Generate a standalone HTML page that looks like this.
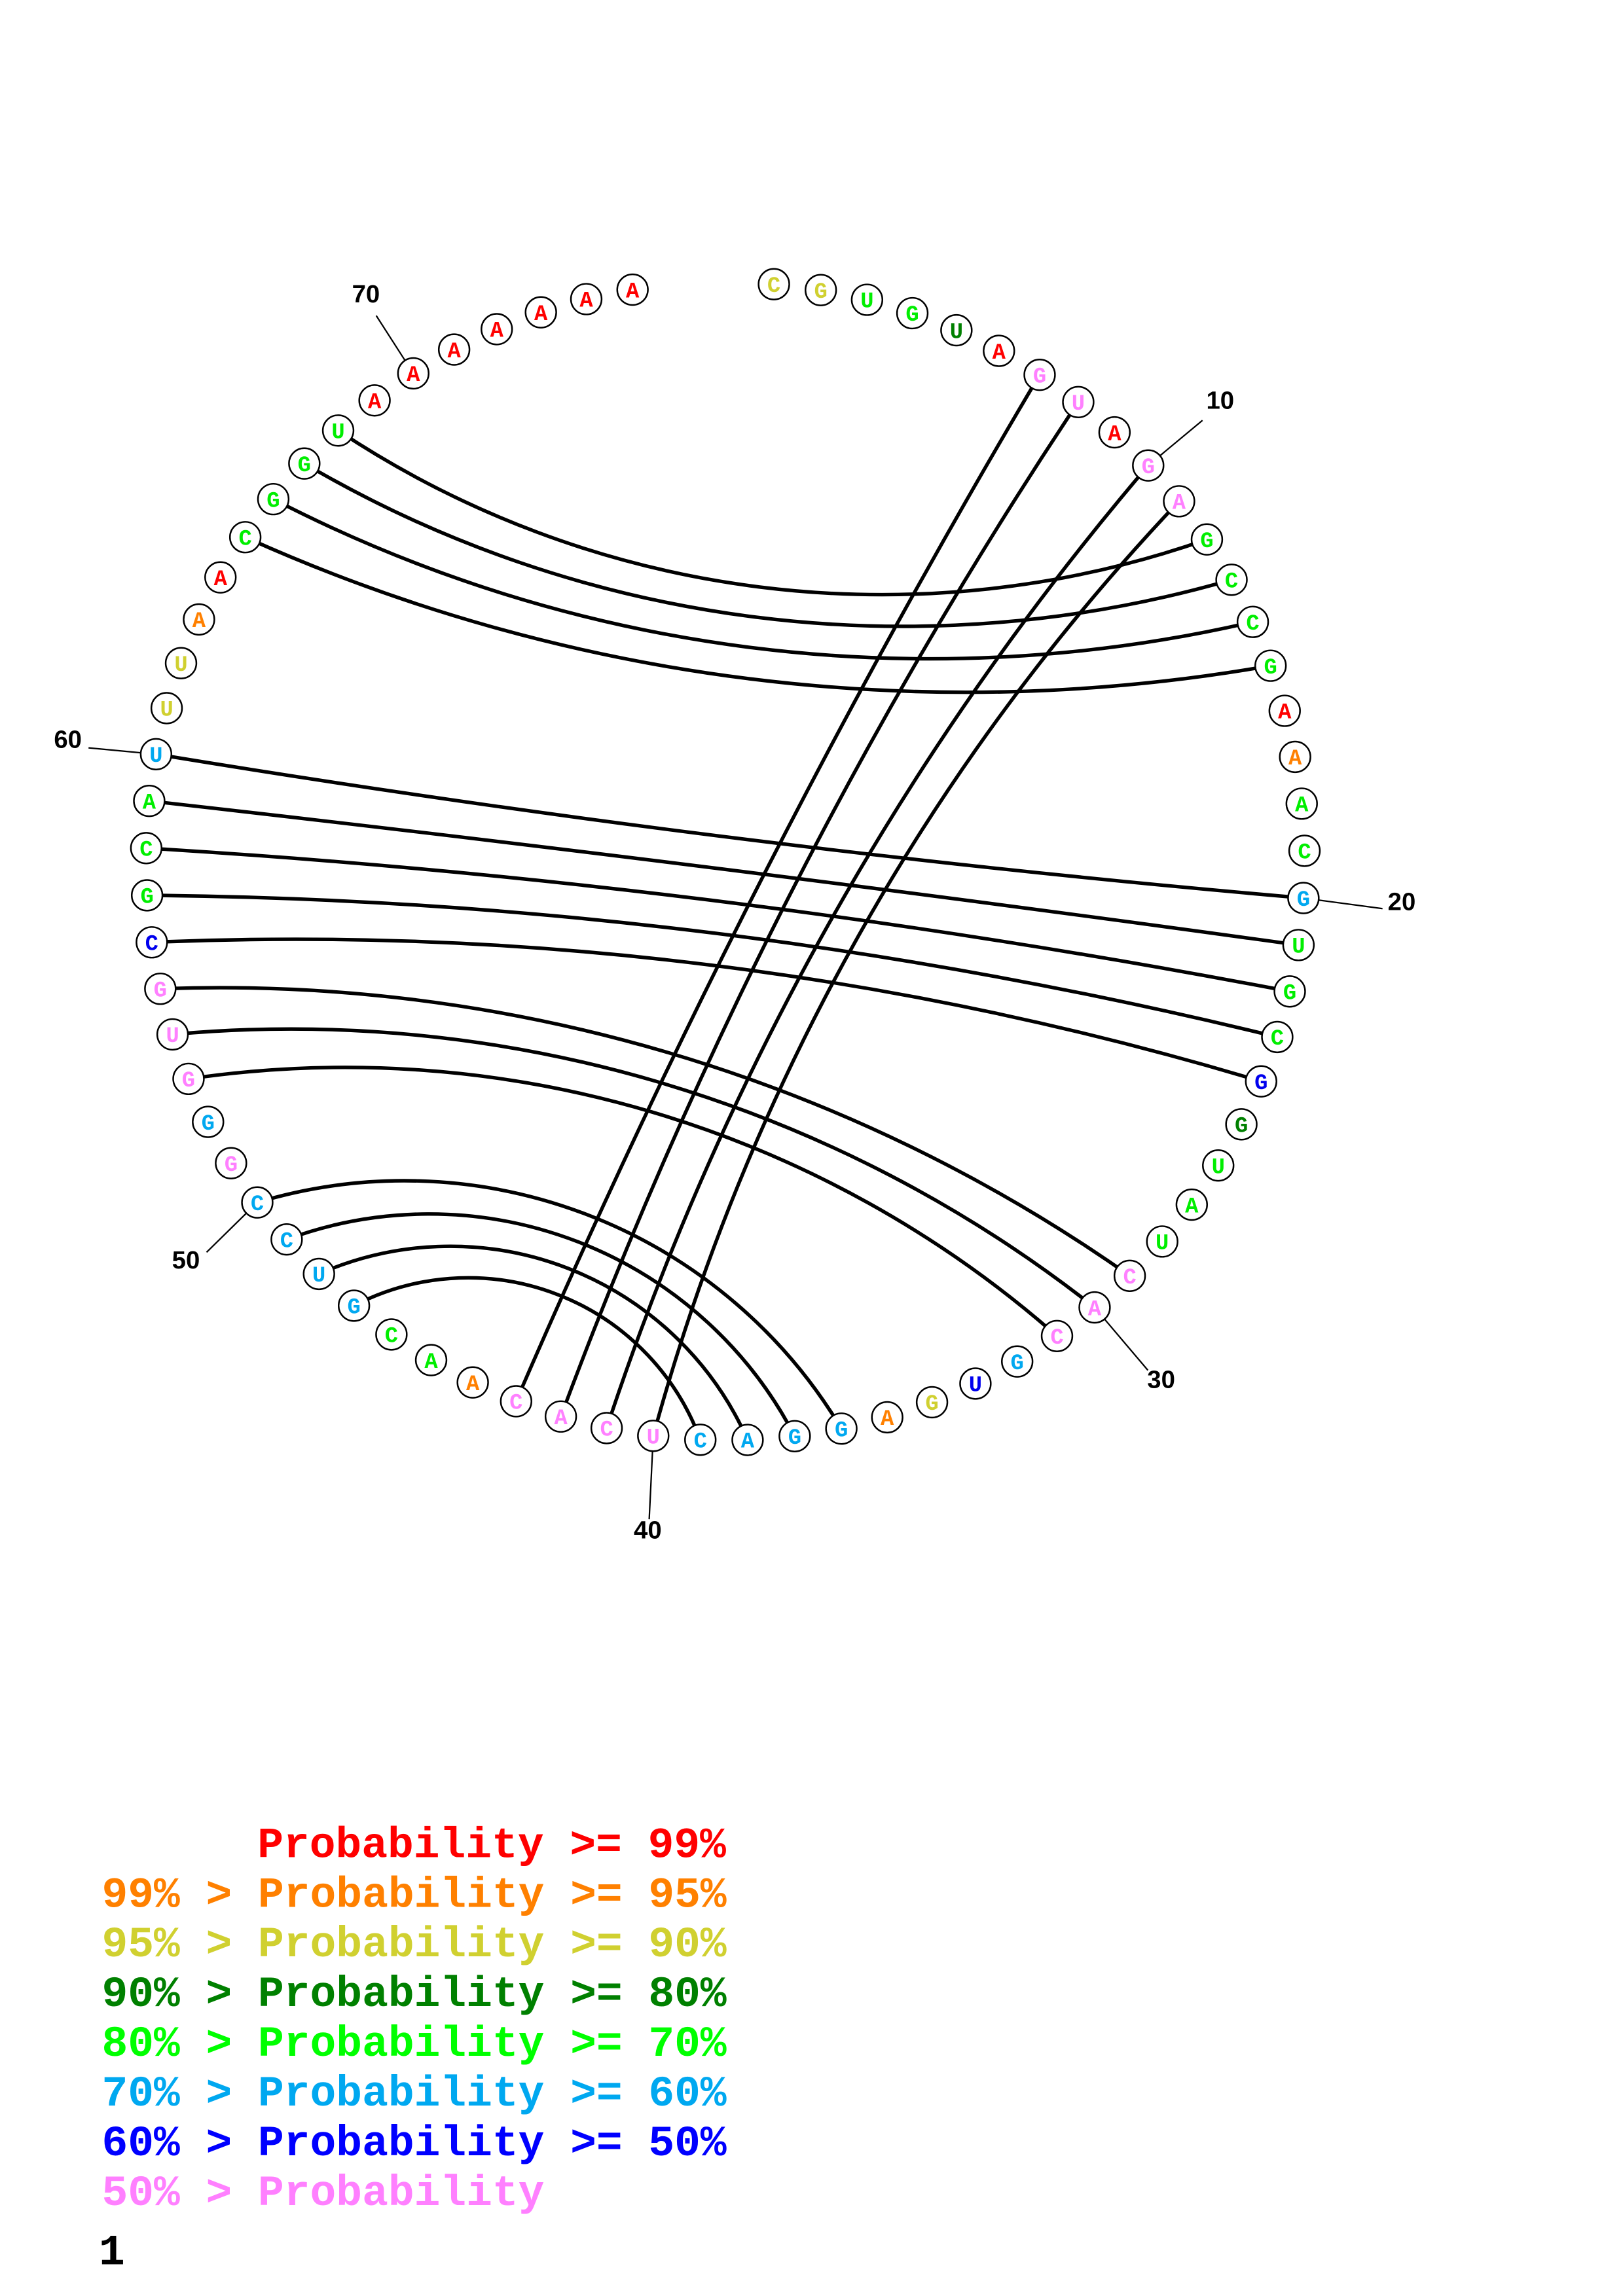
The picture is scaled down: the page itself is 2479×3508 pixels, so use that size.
<!DOCTYPE html>
<html><head><meta charset="utf-8"><style>
html,body{margin:0;padding:0;background:#fff;}
svg{display:block;}
</style></head><body>
<svg id="s" xmlns="http://www.w3.org/2000/svg" width="2479" height="3508" viewBox="0 0 1100 1556.6">
<rect width="1100" height="1556.6" fill="#fff"/>
<g id="arcs" fill="none" stroke="#000" stroke-width="2.4"></g>
<g id="ticks" stroke="#000" stroke-width="1"></g>
<g id="nts"></g>
<g font-family="'Liberation Sans', sans-serif" font-weight="bold" font-size="17" fill="#000" text-anchor="middle">
<text x="827" y="277">10</text>
<text x="950" y="617">20</text>
<text x="787" y="941">30</text>
<text x="439" y="1043">40</text>
<text x="126" y="860">50</text>
<text x="46" y="507">60</text>
<text x="248" y="205">70</text>
</g>
<g font-family="'Liberation Mono', monospace" font-weight="bold" font-size="29.4">
<text x="174.5" y="1259" fill="#ff0000">Probability &gt;= 99%</text>
<text x="69" y="1292.7" fill="#ff8000">99% &gt; Probability &gt;= 95%</text>
<text x="69" y="1326.4" fill="#d0d030">95% &gt; Probability &gt;= 90%</text>
<text x="69" y="1360.1" fill="#008000">90% &gt; Probability &gt;= 80%</text>
<text x="69" y="1393.8" fill="#00ff00">80% &gt; Probability &gt;= 70%</text>
<text x="69" y="1427.5" fill="#00a8f0">70% &gt; Probability &gt;= 60%</text>
<text x="69" y="1461.2" fill="#0000ff">60% &gt; Probability &gt;= 50%</text>
<text x="69" y="1494.9" fill="#ff80ff">50% &gt; Probability</text>
<text x="67" y="1535" fill="#000">1</text>
</g>
</svg>
<script>
(function(){
var NS="http://www.w3.org/2000/svg";
var cx=491.6, cy=583.9, R=392.6, a0=4.81, da=360/77;
var seq="CGUGUAGUAGAGCCGAAACGUGCGGUAUCACGUGAGGACUCACAACGUCCGGGUGCGCAUUUAACGGUAAAAAAA";
var Y="#d0d030",L="#00ee00",D="#008000",Rr="#ff0000",P="#ff80ff",O="#ff8000",S="#00a8f0",B="#0000ee";
var col=[Y,Y,L,L,D,Rr,P,P,Rr,P, P,L,L,L,L,Rr,O,L,L,S, L,L,L,B,D,L,L,L,P,P, P,S,B,Y,O,S,S,S,S,P,
 P,P,P,O,L,L,S,S,S,S, P,S,P,P,P,B,L,L,L,S, Y,Y,O,Rr,L,L,L,L,Rr,Rr, Rr,Rr,Rr,Rr,Rr];
function pos(i){var t=(a0+(i-1)*da)*Math.PI/180;return [cx+R*Math.sin(t),cy-R*Math.cos(t),Math.sin(t),-Math.cos(t)];}
var pairs=[[7,43],[8,42],[10,41],[11,40],[12,68],[13,67],[14,66],[15,65],[20,60],[21,59],[22,58],[23,57],[24,56],[29,55],[30,54],[31,53],[36,50],[37,49],[38,48],[39,47]];
var arcs=document.getElementById("arcs");
var F=0.63;
pairs.forEach(function(p){
 var A=pos(p[0]),Bp=pos(p[1]);
 var dot=A[2]*Bp[2]+A[3]*Bp[3];
 var phi=Math.acos(Math.max(-1,Math.min(1,dot)));
 var c2=Math.cos(phi/2);
 var d;
 if(c2<0.01){d="M"+A[0]+" "+A[1]+"L"+Bp[0]+" "+Bp[1];}
 else{
  var k=R/(2*c2*c2);
  var Cx=cx+(A[2]+Bp[2])*k, Cy=cy+(A[3]+Bp[3])*k;
  var r0=R*Math.tan(phi/2);
  var hc=R*Math.sin(phi/2);
  var s0=r0-Math.sqrt(Math.max(0,r0*r0-hc*hc));
  var s=s0*F;
  var r=(hc*hc+s*s)/(2*s);
  var dx=Bp[0]-A[0],dy=Bp[1]-A[1];
  var cr=dx*(Cy-A[1])-dy*(Cx-A[0]);
  var sw=cr>0?1:0;
  d="M"+A[0].toFixed(2)+" "+A[1].toFixed(2)+" A"+r.toFixed(2)+" "+r.toFixed(2)+" 0 0 "+sw+" "+Bp[0].toFixed(2)+" "+Bp[1].toFixed(2);
 }
 var e=document.createElementNS(NS,"path");e.setAttribute("d",d);arcs.appendChild(e);
});
var ticks=document.getElementById("ticks");
[[10,815,285],[20,937,616],[30,778,929],[40,440,1030],[50,140,849],[60,60,507],[70,255,214]].forEach(function(t){
 var A=pos(t[0]);var l=document.createElementNS(NS,"line");
 l.setAttribute("x1",A[0]);l.setAttribute("y1",A[1]);l.setAttribute("x2",t[1]);l.setAttribute("y2",t[2]);ticks.appendChild(l);
});
var g=document.getElementById("nts");
for(var i=1;i<=75;i++){
 var A=pos(i);
 var c=document.createElementNS(NS,"circle");
 c.setAttribute("cx",A[0]);c.setAttribute("cy",A[1]);c.setAttribute("r",10.4);
 c.setAttribute("fill","#fff");c.setAttribute("stroke","#000");c.setAttribute("stroke-width","1.1");g.appendChild(c);
 var t=document.createElementNS(NS,"text");
 t.setAttribute("x",A[0]);t.setAttribute("y",A[1]+5.2);t.setAttribute("text-anchor","middle");
 t.setAttribute("font-family","'Liberation Mono', monospace");t.setAttribute("font-weight","bold");
 t.setAttribute("font-size","15");t.setAttribute("fill",col[i-1]);t.textContent=seq[i-1];g.appendChild(t);
}
})();
</script>
</body></html>
